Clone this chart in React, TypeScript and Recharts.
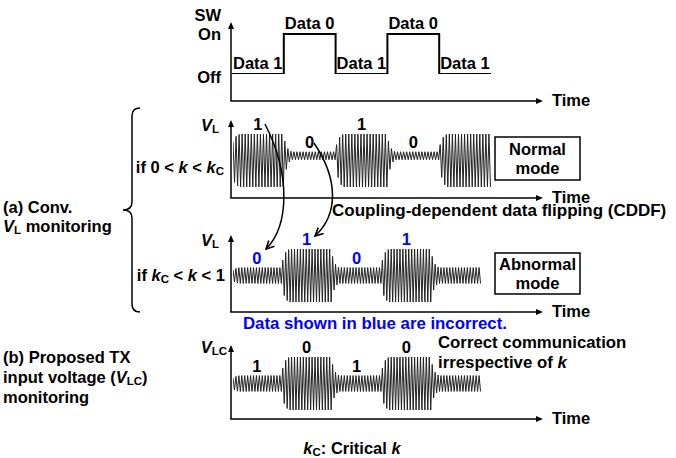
import React from "react";
import { LineChart, Line, XAxis, YAxis, LabelList } from "recharts";

// switch state per data bit (0 = Off, 1 = On)
const swLevels = [0, 1, 0, 1, 0];
const swLabels = ["Data 1", "Data 0", "Data 1", "Data 0", "Data 1"];

// carrier envelope per bit (relative to the full burst)
const normalAmp = [1, 0.15, 1, 0.15, 1];
const normalOffset = [0, 0.18, 0, 0.18, 0];
const normalBits = ["1", "0", "1", "0"];

const abnormalAmp = [0.3, 1, 0.3, 1, 0.3];
const abnormalOffset = [0, 0, 0, 0, 0];
const abnormalBits = ["0", "1", "0", "1"];

const lcAmp = [0.3, 1, 0.3, 1, 0.3];
const lcOffset = [0, 0, 0, 0, 0];
const lcBits = ["1", "0", "1", "0"];

const CYCLES_PER_BIT = 17;
// how fast the envelope settles after a bit change
const edgeShape = [0.4, 0.65, 0.82, 0.92, 0.97];

const FONT = "'Liberation Sans', Arial, sans-serif";
const BLUE = "#0000ff";

const swData = [
  ...swLevels.map((s, i) => ({ t: i, sw: s, label: swLabels[i] })),
  { t: swLevels.length, sw: swLevels[swLevels.length - 1], label: "" },
];

const buildCarrier = (amp: number[], offset: number[]) => {
  const pts: { t: number; v: number }[] = [];
  const n = CYCLES_PER_BIT * 2;
  amp.forEach((a, i) => {
    const prevA = i === 0 ? a * 0.5 : amp[i - 1];
    const prevO = i === 0 ? offset[i] : offset[i - 1];
    for (let j = 0; j < n; j++) {
      const k = j < edgeShape.length ? edgeShape[j] : 1;
      const env = prevA + (a - prevA) * k;
      const off = prevO + (offset[i] - prevO) * k;
      const sign = j % 2 === 0 ? 1 : -1;
      pts.push({ t: i + j / n, v: off + sign * env });
    }
  });
  return pts;
};

type Panel = {
  left: number;
  top: number;
  width: number;
  height: number;
  amp: number[];
  offset: number[];
  bits: string[];
  color: string;
};

const panels: Panel[] = [
  { left: 233, top: 134, width: 259, height: 53, amp: normalAmp, offset: normalOffset, bits: normalBits, color: "#000" },
  { left: 233, top: 249, width: 249, height: 53, amp: abnormalAmp, offset: abnormalOffset, bits: abnormalBits, color: BLUE },
  { left: 233, top: 357, width: 249, height: 53, amp: lcAmp, offset: lcOffset, bits: lcBits, color: "#000" },
];

const axes = [
  { top: 22, base: 101 },
  { top: 120, base: 198 },
  { top: 235, base: 312 },
  { top: 345, base: 419 },
];
const AXIS_X = 231;
const AXIS_END = 543;

const margin0 = { top: 0, right: 0, bottom: 0, left: 0 };

const T = ({
  x,
  y,
  anchor = "start",
  fill = "#000",
  size = 16.5,
  children,
}: {
  x: number;
  y: number;
  anchor?: "start" | "middle" | "end";
  fill?: string;
  size?: number;
  children: React.ReactNode;
}) => (
  <text
    x={x}
    y={y}
    textAnchor={anchor}
    dominantBaseline="central"
    fontFamily={FONT}
    fontWeight="bold"
    fontSize={size}
    fill={fill}
  >
    {children}
  </text>
);

const It = ({ children }: { children: React.ReactNode }) => (
  <tspan fontStyle="italic">{children}</tspan>
);
const Sub = ({ children, after }: { children: React.ReactNode; after?: React.ReactNode }) => (
  <>
    <tspan fontSize={11.5} dy={4}>
      {children}
    </tspan>
    {after ? <tspan dy={-4}>{after}</tspan> : null}
  </>
);

const SwLabel = (props: any) => {
  const { x, y, value } = props;
  if (!value) return null;
  return (
    <text x={x + 1} y={y - 11} dominantBaseline="central" fontFamily={FONT} fontWeight="bold" fontSize={16.5} fill="#000">
      {value}
    </text>
  );
};

export default function App() {
  return (
    <div
      style={{
        position: "absolute",
        left: 0,
        top: 0,
        width: 676,
        height: 458,
        background: "#fff",
        overflow: "hidden",
      }}
    >
      {/* SW step waveform */}
      <div style={{ position: "absolute", left: 232, top: 14 }}>
        <LineChart width={259} height={60} data={swData} margin={{ top: 20, right: 0, bottom: 0, left: 0 }}>
          <XAxis dataKey="t" type="number" domain={[0, 5]} hide />
          <YAxis domain={[0, 1]} hide />
          <Line
            dataKey="sw"
            type="stepAfter"
            stroke="#000"
            strokeWidth={2}
            dot={false}
            isAnimationActive={false}
          >
            <LabelList dataKey="label" content={<SwLabel />} />
          </Line>
        </LineChart>
      </div>

      {panels.map((p, idx) => (
        <div key={idx} style={{ position: "absolute", left: p.left, top: p.top }}>
          <LineChart width={p.width} height={p.height} data={buildCarrier(p.amp, p.offset)} margin={margin0}>
            <XAxis dataKey="t" type="number" domain={[0, p.amp.length]} hide />
            <YAxis domain={[-1, 1]} hide allowDataOverflow />
            <Line
              dataKey="v"
              type="linear"
              stroke="#222"
              strokeWidth={1}
              dot={false}
              isAnimationActive={false}
            />
          </LineChart>
        </div>
      ))}

      <svg
        width={676}
        height={458}
        style={{ position: "absolute", left: 0, top: 0, pointerEvents: "none" }}
      >
        <defs>
          <marker
            id="openArrow"
            viewBox="0 0 10 10"
            refX={9}
            refY={5}
            markerWidth={10}
            markerHeight={10}
            markerUnits="userSpaceOnUse"
            orient="auto"
          >
            <path d="M1,1 L9,5 L1,9" fill="none" stroke="#000" strokeWidth={1.6} />
          </marker>
        </defs>

        {axes.map((a, i) => (
          <g key={i}>
            <line x1={AXIS_X} y1={a.base} x2={AXIS_X} y2={a.top + 5} stroke="#000" strokeWidth={1.5} />
            <line x1={AXIS_X - 0.75} y1={a.base} x2={AXIS_END - 6} y2={a.base} stroke="#000" strokeWidth={1.5} />
            <path d={`M${AXIS_X},${a.top} L${AXIS_X - 3},${a.top + 7} L${AXIS_X + 3},${a.top + 7} Z`} fill="#000" />
            <path d={`M${AXIS_END},${a.base} L${AXIS_END - 7},${a.base - 3} L${AXIS_END - 7},${a.base + 3} Z`} fill="#000" />
            <T x={552} y={a.base - 1}>Time</T>
          </g>
        ))}

        {/* SW axis labels */}
        <T x={221} y={15} anchor="end">SW</T>
        <T x={221} y={34} anchor="end">On</T>
        <T x={221} y={77} anchor="end">Off</T>

        {/* bit labels over the carrier bursts */}
        {panels.map((p, pi) =>
          p.bits.map((b, i) => {
            const half = p.height / 2;
            const cy = p.top + half;
            const topEnv = cy - (p.amp[i] + p.offset[i]) * half;
            const bw = p.width / p.amp.length;
            return (
              <T key={`${pi}-${i}`} x={p.left + (i + 0.5) * bw - 1} y={topEnv - 10} anchor="middle" fill={p.color}>
                {b}
              </T>
            );
          })
        )}

        {/* y-axis names */}
        <T x={219} y={125} anchor="end">
          <It>V</It>
          <Sub>L</Sub>
        </T>
        <T x={219} y={240} anchor="end">
          <It>V</It>
          <Sub>L</Sub>
        </T>
        <T x={227} y={347} anchor="end">
          <It>V</It>
          <Sub>LC</Sub>
        </T>

        <T x={224} y={167} anchor="end">
          {"if 0 < "}
          <It>k</It>
          {" < "}
          <It>k</It>
          <Sub>C</Sub>
        </T>
        <T x={225} y={275} anchor="end">
          {"if "}
          <It>k</It>
          <Sub after={<>{" < "}<tspan fontStyle="italic">k</tspan>{" < 1"}</>}>C</Sub>
        </T>

        {/* left-hand descriptions */}
        <T x={3} y={207}>(a) Conv.</T>
        <T x={3} y={226}>
          <It>V</It>
          <Sub after=" monitoring">L</Sub>
        </T>
        <T x={3} y={357}>(b) Proposed TX</T>
        <T x={3} y={377}>
          {"input voltage ("}
          <It>V</It>
          <Sub after=")">LC</Sub>
        </T>
        <T x={3} y={397}>monitoring</T>

        {/* brace */}
        <path
          d="M140,108 Q132,108 132,116 L132,202 Q132,210 123,210 Q132,210 132,218 L132,304 Q132,312 140,312"
          fill="none"
          stroke="#000"
          strokeWidth={1.5}
        />

        {/* CDDF arrows */}
        <path d="M265,124 C291,175 289,226 266,249" fill="none" stroke="#000" strokeWidth={1.5} markerEnd="url(#openArrow)" />
        <path d="M314,143 C339,180 338,215 315,236" fill="none" stroke="#000" strokeWidth={1.5} markerEnd="url(#openArrow)" />
        <T x={332} y={210} size={17}>Coupling-dependent data flipping (CDDF)</T>

        {/* mode boxes */}
        <rect x={495} y={137} width={85} height={43} fill="#fff" stroke="#000" strokeWidth={1.5} />
        <T x={537.5} y={149} anchor="middle">Normal</T>
        <T x={537.5} y={168} anchor="middle">mode</T>
        <rect x={495} y={253} width={85} height={41} fill="#fff" stroke="#000" strokeWidth={1.5} />
        <T x={537.5} y={264} anchor="middle">Abnormal</T>
        <T x={537.5} y={283} anchor="middle">mode</T>

        <T x={243} y={323} fill={BLUE} size={16.8}>Data shown in blue are incorrect.</T>

        <T x={438} y={342} size={16.8}>Correct communication</T>
        <T x={438} y={362} size={16.8}>
          {"irrespective of "}
          <It>k</It>
        </T>

        <T x={352} y={448} anchor="middle">
          <It>k</It>
          <Sub after={<>{": Critical "}<tspan fontStyle="italic">k</tspan></>}>C</Sub>
        </T>
      </svg>
    </div>
  );
}
